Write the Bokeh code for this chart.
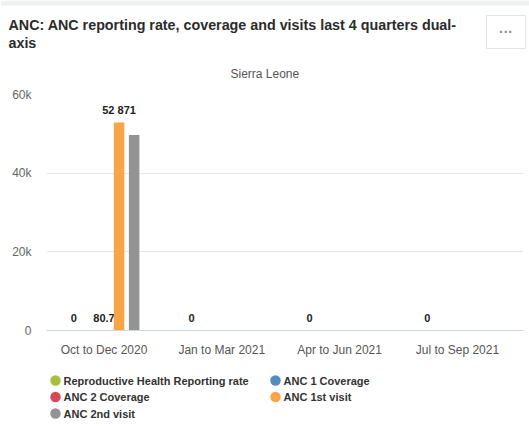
import math
from bokeh.plotting import figure
from bokeh.layouts import column
from bokeh.models import ColumnDataSource, Range1d, FixedTicker, Title
from bokeh.transform import dodge
from bokeh.core.properties import value
from bokeh.embed import file_html
from bokeh.resources import INLINE

nan = float("nan")

# ---------------- data ----------------
quarters = ["Oct to Dec 2020", "Jan to Mar 2021", "Apr to Jun 2021", "Jul to Sep 2021"]
series_names = ["Reproductive Health Reporting rate", "ANC 1 Coverage",
                "ANC 2 Coverage", "ANC 1st visit", "ANC 2nd visit"]
series_colors = ["#a9be3b", "#558cc0", "#d34957", "#f9a445", "#939393"]

reporting_rate = [0, 0, 0, 0]
anc1_coverage = [nan, nan, nan, nan]
anc2_coverage = [80.7, nan, nan, nan]
anc1_visit = [52871, nan, nan, nan]
anc2_visit = [49700, nan, nan, nan]

# which data labels are visible (others hidden by overlap in the original)
reporting_rate_lbl = [True, True, True, True]
anc1_coverage_lbl = [False, False, False, False]
anc2_coverage_lbl = [True, False, False, False]
anc1_visit_lbl = [True, False, False, False]
anc2_visit_lbl = [False, False, False, False]

y_ticks = [0, 20000, 40000, 60000]
y_tick_labels = ["0", "20k", "40k", "60k"]

title_lines = ["ANC: ANC reporting rate, coverage and visits last 4 quarters dual-",
               "axis"]
subtitle = "Sierra Leone"
menu_text = "···"

series_values = [reporting_rate, anc1_coverage, anc2_coverage, anc1_visit, anc2_visit]
series_lbls = [reporting_rate_lbl, anc1_coverage_lbl, anc2_coverage_lbl,
               anc1_visit_lbl, anc2_visit_lbl]

FONT = "Liberation Sans"
W = 529
BORDER_L, BORDER_R = 46, 6
FRAME_TOP, FRAME_BOTTOM = 92, 330


def fmt(v):
    if v is None or (isinstance(v, float) and math.isnan(v)):
        return ""
    if float(v).is_integer():
        return f"{int(v):,}".replace(",", " ")
    return f"{v:.1f}"


# ---------------- header (own, unaligned strip) ----------------
HDR_H = 50
hdr = figure(width=W, height=HDR_H, output_backend="svg", toolbar_location=None,
             x_range=Range1d(0, W), y_range=Range1d(HDR_H, 0),
             x_axis_type=None, y_axis_type=None,
             min_border_left=0, min_border_right=0, min_border_top=0,
             min_border_bottom=0)
use_header = True
try:
    hdr.frame_align = False
except Exception:
    use_header = False

if use_header:
    hdr.outline_line_color = None
    hdr.xgrid.visible = False
    hdr.ygrid.visible = False
    hdr.background_fill_color = "white"
    hdr.border_fill_color = "white"
    hdr.quad(left=[0], right=[W], top=[0], bottom=[5], fill_color="#eef0f2",
             line_color=None)
    hdr.text(x=[8, 8], y=[24, 42], text=title_lines, text_font=value(FONT),
             text_font_size="14.3px", text_font_style="bold", text_color="#2b2b2b",
             text_align="left", text_baseline="middle")
    hdr.quad(left=[486], right=[525], top=[15], bottom=[48], fill_color="white",
             line_color="#dfe4e8", line_width=1)
    hdr.text(x=[505.5], y=[31.5], text=[menu_text], text_font=value(FONT),
             text_font_size="14px", text_font_style="bold", text_color="#8a8a8a",
             text_align="center", text_baseline="middle")
    top_off = HDR_H
else:
    top_off = 0

# ---------------- main chart ----------------
MAIN_H = 362 - top_off
p = figure(width=W, height=MAIN_H, output_backend="svg", toolbar_location=None,
           x_range=Range1d(-0.488, 3.561), y_range=Range1d(0, 60000),
           min_border_left=BORDER_L, min_border_right=BORDER_R,
           min_border_top=FRAME_TOP - top_off, min_border_bottom=362 - FRAME_BOTTOM)
p.outline_line_color = None
p.background_fill_color = "white"
p.border_fill_color = "white"

p.add_layout(Title(text=subtitle, align="left", offset=184,
                   text_font=FONT, text_font_size="12px", text_font_style="normal",
                   text_color="#555555", standoff=28), "above")
if not use_header:
    p.add_layout(Title(text=title_lines[1], align="left", offset=-39,
                       text_font=FONT, text_font_size="14.3px",
                       text_font_style="bold", text_color="#2b2b2b", standoff=-2),
                 "above")
    p.add_layout(Title(text=title_lines[0], align="left", offset=-39,
                       text_font=FONT, text_font_size="14.3px",
                       text_font_style="bold", text_color="#2b2b2b", standoff=1),
                 "above")

p.xaxis.ticker = FixedTicker(ticks=list(range(len(quarters))))
p.xaxis.major_label_overrides = {i: q for i, q in enumerate(quarters)}
p.xaxis.axis_line_color = "#ccd6eb"
p.xaxis.major_tick_line_color = None
p.xaxis.major_tick_out = 0
p.xaxis.major_tick_in = 0
p.xaxis.minor_tick_line_color = None
p.xaxis.major_label_text_font = FONT
p.xaxis.major_label_text_font_size = "12px"
p.xaxis.major_label_text_color = "#555555"
p.xaxis.major_label_standoff = 12

p.yaxis.ticker = FixedTicker(ticks=y_ticks)
p.yaxis.major_label_overrides = {t: l for t, l in zip(y_ticks, y_tick_labels)}
p.yaxis.axis_line_color = None
p.yaxis.major_tick_line_color = None
p.yaxis.major_tick_out = 0
p.yaxis.major_tick_in = 0
p.yaxis.minor_tick_line_color = None
p.yaxis.major_label_text_font = FONT
p.yaxis.major_label_text_font_size = "12px"
p.yaxis.major_label_text_color = "#666666"
p.yaxis.major_label_standoff = 15

p.xgrid.grid_line_color = None
p.ygrid.grid_line_color = "#e6e6e6"

n = len(series_names)
step = 0.128
width = 0.089
for k, (name, color, vals, lbls) in enumerate(zip(series_names, series_colors,
                                                    series_values, series_lbls)):
    off = (k - (n - 1) / 2) * step
    src = ColumnDataSource(dict(x=list(range(len(quarters))), top=vals))
    p.vbar(x=dodge("x", off, range=p.x_range), top="top", width=width, source=src,
           fill_color=color, line_color=None)
    lsrc = ColumnDataSource(dict(
        x=[i for i, s in enumerate(lbls) if s],
        y=[vals[i] for i, s in enumerate(lbls) if s],
        t=[fmt(vals[i]) for i, s in enumerate(lbls) if s]))
    p.text(x=dodge("x", off, range=p.x_range), y="y", text="t", source=lsrc,
           text_font=value(FONT), text_font_size="11px", text_font_style="bold",
           text_color="#222222", text_align="center", text_baseline="middle",
           y_offset=-12.5)

# ---------------- legend (own strip, pixel coordinates) ----------------
LEG_H = 426 - 362
leg = figure(width=W, height=LEG_H, output_backend="svg", toolbar_location=None,
             x_range=Range1d(BORDER_L, W - BORDER_R), y_range=Range1d(LEG_H, 0),
             x_axis_type=None, y_axis_type=None,
             min_border_left=BORDER_L, min_border_right=BORDER_R,
             min_border_top=0, min_border_bottom=0)
leg.outline_line_color = None
leg.xgrid.visible = False
leg.ygrid.visible = False
leg.background_fill_color = "white"
leg.border_fill_color = "white"

col_x = [55, 275]        # circle centres of the two legend columns (page px)
row_y0, row_dy = 18, 16.5
txt_gap = 8
lx = [col_x[k % 2] for k in range(n)]
ly = [row_y0 + row_dy * (k // 2) for k in range(n)]
leg.scatter(x=lx, y=ly, marker="circle", size=10.5, fill_color=series_colors,
            line_color=None)
leg.text(x=[x + txt_gap for x in lx], y=ly, text=series_names, text_font=value(FONT),
         text_font_size="11px", text_font_style="bold", text_color="#333333",
         text_align="left", text_baseline="middle")

children = [hdr, p, leg] if use_header else [p, leg]
layout = column(*children, spacing=0)
open("out.html", "w").write(file_html(layout, INLINE))
